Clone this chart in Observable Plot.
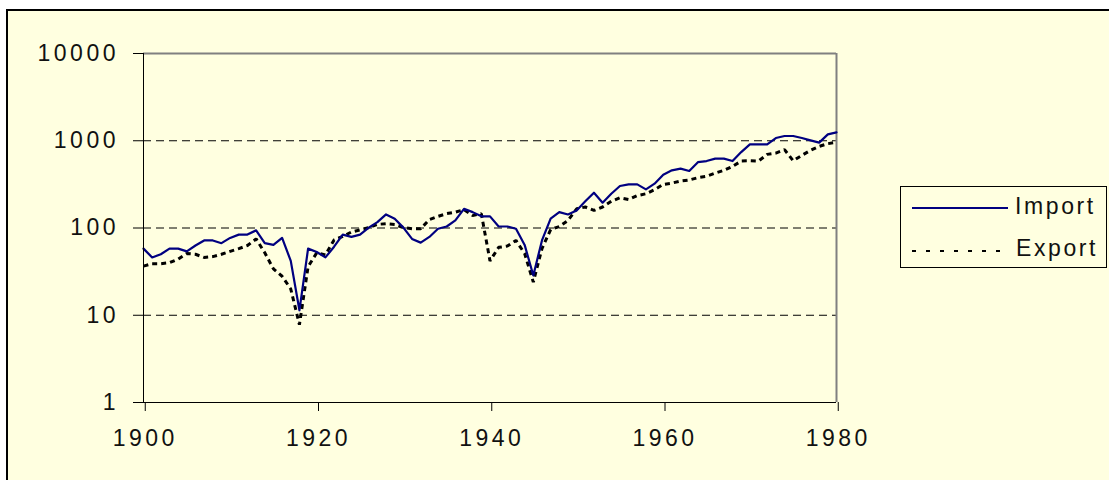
<!DOCTYPE html>
<html><head><meta charset="utf-8">
<script src="https://cdn.jsdelivr.net/npm/d3@7"></script>
<script src="https://cdn.jsdelivr.net/npm/@observablehq/plot@0.6"></script>
<style>
html,body{margin:0;padding:0;background:#fff;}
#wrap{position:relative;width:1109px;height:480px;overflow:hidden;font-family:"Liberation Sans",Arial,sans-serif;}
#frame{position:absolute;left:6px;top:9px;width:1200px;height:600px;background:#FFFFE0;border:2px solid #000;box-sizing:border-box;}
#chart{position:absolute;left:0;top:0;}
#legend{position:absolute;left:900px;top:186px;width:207px;height:82px;border:1px solid #000;box-sizing:border-box;}
#legend svg{display:block;}
</style></head><body>
<div id="wrap"><div id="frame"></div><div id="chart"></div><div id="legend"></div></div>
<script>
const years = [1900,1901,1902,1903,1904,1905,1906,1907,1908,1909,
1910,1911,1912,1913,1914,1915,1916,1917,1918,1919,
1920,1921,1922,1923,1924,1925,1926,1927,1928,1929,
1930,1931,1932,1933,1934,1935,1936,1937,1938,1939,
1940,1941,1942,1943,1944,1945,1946,1947,1948,1949,
1950,1951,1952,1953,1954,1955,1956,1957,1958,1959,
1960,1961,1962,1963,1964,1965,1966,1967,1968,1969,
1970,1971,1972,1973,1974,1975,1976,1977,1978,1979,1980];
const importValues = [58,46,50,58,58,54,63,72,72,67,
77,84,84,94,67,64,77,42,11.4,58,
53,46,61,84,79,84,101,117,143,128,
101,75,68,79,98,104,122,166,152,136,
136,104,104,98,64,28.6,72,128,152,143,
159,202,254,195,247,303,316,316,277,322,
408,458,479,450,568,585,624,624,585,742,
909,909,909,1074,1133,1133,1074,1011,951,1184,1247];
const exportValues = [36.6,39,39,40,44,51,50,46,47,50,
54,58,63,75,52,34,28,20,7.8,36,
52,49,73,80,90,95,101,110,112,110,
101,98,98,125,136,146,152,162,139,146,
42,60,62,72,51,24,58,96,104,122,
166,174,159,174,202,222,212,235,247,275,
316,327,345,355,377,391,426,458,509,585,
590,585,698,722,790,590,681,776,863,926,960];
const xTicks = [1900,1920,1940,1960,1980];
const yTicks = [1,10,100,1000,10000];
const gridValues = [10,100,1000];
const seriesNames = ["Import","Export"];

const rows = years.map((year,i)=>({year, imp: importValues[i], exp: exportValues[i]}));
const font = '"Liberation Sans", Arial, sans-serif';
const plot = Plot.plot({
  width:1109, height:480,
  marginLeft:143, marginRight:273, marginTop:53, marginBottom:78,
  style:{background:"transparent", fontFamily:font, fontSize:"23px", color:"#111", letterSpacing:"3.5px", overflow:"visible"},
  x:{domain:[1900,1980]},
  y:{type:"log", domain:[1,10000]},
  marks:[
    Plot.ruleY(gridValues,{stroke:"#000", strokeWidth:1, strokeDasharray:"8,5"}),
    Plot.ruleY([10000],{stroke:"#808080", strokeWidth:2}),
    Plot.ruleX([1980],{stroke:"#808080", strokeWidth:2}),
    Plot.line(rows,{x:"year", y:"exp", stroke:"#000", strokeWidth:3, strokeDasharray:"5,4", strokeLinecap:"butt", strokeLinejoin:"miter"}),
    Plot.line(rows,{x:"year", y:"imp", stroke:"#000080", strokeWidth:2.2}),
    Plot.ruleX([1900],{stroke:"#000", strokeWidth:1}),
    Plot.ruleY([1],{stroke:"#000", strokeWidth:1}),
    Plot.axisY({ticks:yTicks, tickFormat:d=>String(d), tickSize:10, tickPadding:14.5, label:null, stroke:"#000"}),
    Plot.axisX({ticks:xTicks, tickFormat:d=>String(d), tickSize:9, tickPadding:18, dx:1.75, label:null, stroke:"#000"})
  ]
});
document.getElementById("chart").appendChild(plot);

// legend
const lg = d3.select("#legend").append("svg").attr("width",205).attr("height",80)
  .style("font-family",font).style("font-size","23px").style("letter-spacing","2.6px");
lg.append("line").attr("x1",11).attr("x2",107).attr("y1",21).attr("y2",21)
  .attr("stroke","#000080").attr("stroke-width",2);
lg.append("text").attr("x",114).attr("y",27).attr("fill","#111").text(seriesNames[0]);
lg.append("line").attr("x1",11).attr("x2",100).attr("y1",64).attr("y2",64)
  .attr("stroke","#000").attr("stroke-width",2).attr("stroke-dasharray","4,10");
lg.append("text").attr("x",115).attr("y",69).attr("fill","#111").text(seriesNames[1]);
</script>
</body></html>
